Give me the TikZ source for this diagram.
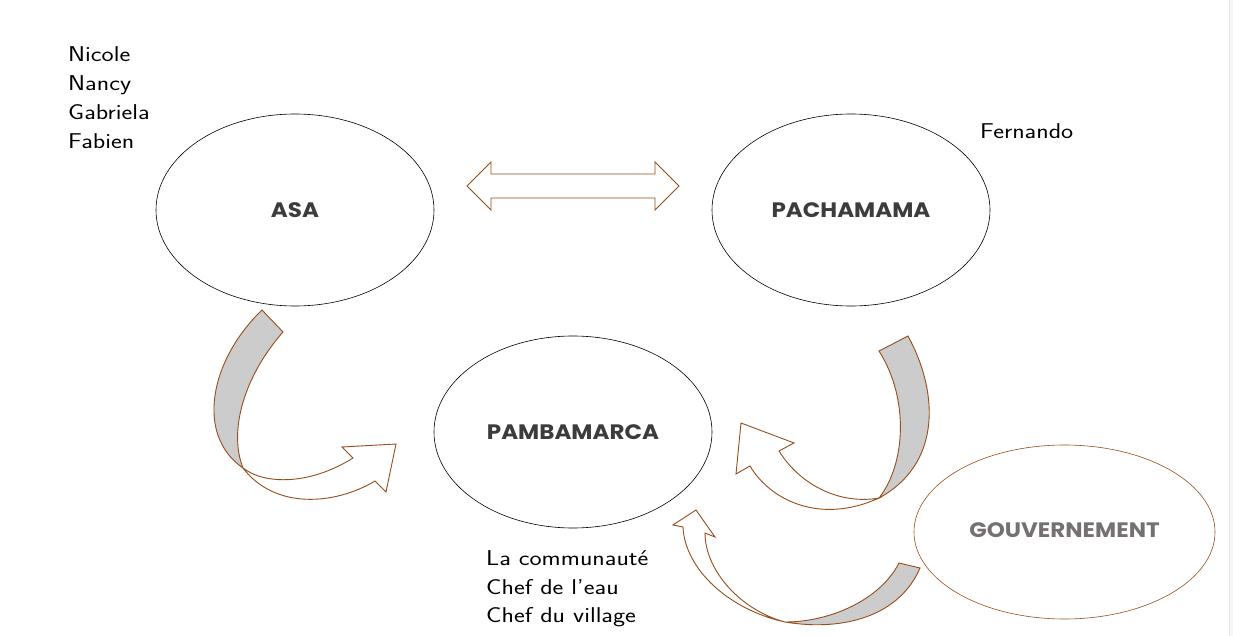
\documentclass[tikz,border=0pt]{standalone}
\usepackage{fontspec}
\newfontfamily\namefont[FakeStretch=1.2]{Latin Modern Sans}
\newfontfamily\boldlab[FakeStretch=1.1]{Poppins Bold}
\definecolor{brn}{RGB}{150,78,28}
\definecolor{grayfill}{RGB}{204,204,204}
\definecolor{labdark}{RGB}{60,60,60}
\definecolor{labgray}{RGB}{118,113,113}
\begin{document}
\begin{tikzpicture}[x=1bp,y=-1bp,
  ell/.style={ellipse,draw=black,line width=0.5bp},
  arrw/.style={draw=brn,line width=0.9bp,line join=miter},
  names/.style={font=\namefont\fontsize{21.5}{21.5}\selectfont,text=black,anchor=base west,inner sep=0pt},
  lab/.style={font=\boldlab\fontsize{21}{21}\selectfont,text=labdark}]
\useasboundingbox (0,0) rectangle (1233,636);
\fill[white] (0,0) rectangle (1233,636);
\fill[gray!7] (1229,0) rectangle (1233,636);
\draw[gray!15,line width=0.5bp] (1229,0) -- (1229,636);
% ellipses
\draw[line width=0.6bp] (295,210) ellipse [x radius=139,y radius=96];
\draw[line width=0.6bp] (851,210) ellipse [x radius=139,y radius=96];
\draw[line width=0.6bp] (573,432) ellipse [x radius=139,y radius=96];
\draw[brn,line width=0.6bp] (1064.5,532) ellipse [x radius=150.5,y radius=87];
\node[lab] (asa) at (295,210) {ASA};
\node[lab] (pacha) at (851,210) {PACHAMAMA};
\node[lab] (pamba) at (573,432) {PAMBAMARCA};
\node[lab,text=labgray] (gouv) at (1064.5,530) {GOUVERNEMENT};
% name lists
\node[names] (n1) at (68,62) {Nicole};
\node[names] (n2) at (68,91) {Nancy};
\node[names] (n3) at (68,120) {Gabriela};
\node[names] (n4) at (68,149) {Fabien};
\node[names] (fer) at (980,139) {Fernando};
\node[names] (c1) at (486,565) {La communauté};
\node[names] (c2) at (486,594) {Chef de l’eau};
\node[names] (c3) at (486,622) {Chef du village};
% double arrow
\draw[arrw] (467,186) -- (491,162) -- (491,174) -- (655,174) -- (655,162) -- (679,186)
  -- (655,210) -- (655,198) -- (491,198) -- (491,210) -- cycle;
% curved arrow ASA -> PAMBAMARCA
\filldraw[arrw,fill=grayfill] (262,310) -- (283,332) .. controls (245,375) and (228,430) .. (243,468)
  .. controls (195,435) and (210,360) .. (262,310) -- cycle;
\draw[arrw] (243,468) .. controls (265,485) and (310,485) .. (353,458) -- (342,447) -- (396,444)
  -- (386,492) -- (375,481) .. controls (335,505) and (275,510) .. (243,468) -- cycle;
% curved arrow PACHAMAMA -> PAMBAMARCA
\filldraw[arrw,fill=grayfill] (879,351) -- (908,336) .. controls (940,395) and (940,465) .. (879,498)
  .. controls (905,465) and (910,400) .. (879,351) -- cycle;
\draw[arrw] (879,498) .. controls (840,505) and (800,485) .. (779,451) -- (794,443) -- (741,423)
  -- (736,474) -- (750,466) .. controls (770,500) and (820,525) .. (879,498) -- cycle;
% curved arrow GOUVERNEMENT -> PAMBAMARCA
\filldraw[arrw,fill=grayfill] (899,563) -- (920,568) .. controls (900,615) and (845,632) .. (785,622)
  .. controls (830,622) and (880,600) .. (899,563) -- cycle;
\draw[arrw] (785,622) .. controls (730,610) and (685,570) .. (683,527) -- (673,525) -- (696,510)
  -- (715,537) -- (705,533) .. controls (705,570) and (740,610) .. (785,622) -- cycle;
\end{tikzpicture}
\end{document}
